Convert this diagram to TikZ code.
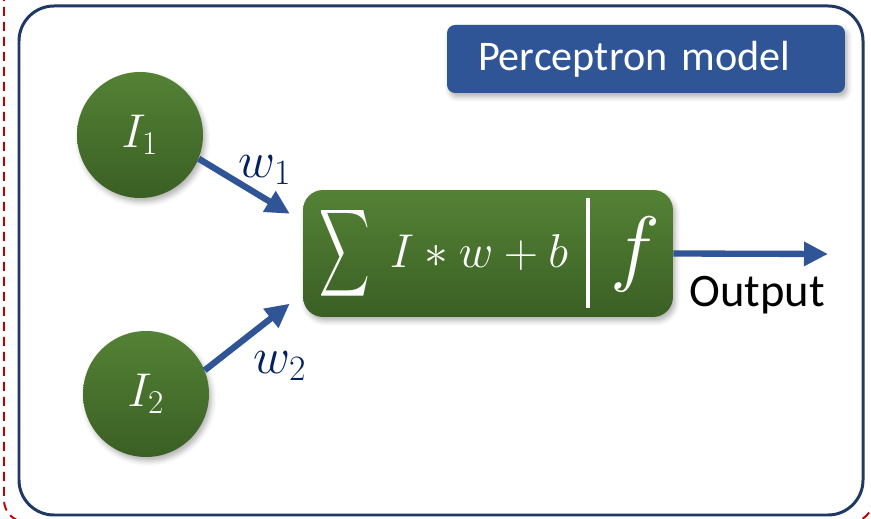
\RequirePackage{fix-cm}
\documentclass[tikz,border=0pt]{standalone}
\usepackage{amsmath}
\usepackage[no-math]{fontspec}
\setmainfont{Carlito}
\usepackage{graphicx}
\usetikzlibrary{positioning,arrows.meta,shadows.blur}
\definecolor{framenavy}{HTML}{1F3864}
\definecolor{titleblue}{HTML}{2F5597}
\definecolor{arrowblue}{HTML}{2F5597}
\definecolor{labelnavy}{HTML}{002060}
\definecolor{cellgreen}{HTML}{548235}
\definecolor{celldark}{HTML}{3A5F24}
\definecolor{borderred}{HTML}{C00000}
\tikzset{
  flowarrow/.style={-{Triangle[length=4.8mm, width=4.6mm]}, line width=3.6pt, arrowblue},
  softshadow/.style={blur shadow={shadow xshift=0.05cm, shadow yshift=-0.08cm, shadow blur radius=0.1cm, shadow opacity=30}},
  inputcell/.style={circle, minimum size=2.52cm, inner sep=0pt, top color=cellgreen, bottom color=celldark, softshadow, text=white, font=\fontsize{27}{30}\selectfont},
  sumbox/.style={rounded corners=0.4cm, minimum width=7.4cm, minimum height=2.54cm, top color=cellgreen, bottom color=celldark, softshadow},
  titlebox/.style={rounded corners=0.16cm, fill=titleblue, minimum height=1.36cm, text width=6.72cm, inner xsep=0.62cm, align=left, text=white, softshadow, font=\fontsize{24}{28}\selectfont},
  weightlabel/.style={text=labelnavy, font=\fontsize{29}{32}\selectfont},
  mathwhite/.style={text=white, inner sep=0pt, font=\fontsize{27}{30}\selectfont},
  outlabel/.style={font=\fontsize{26.5}{30}\selectfont, inner sep=0pt}
}
\begin{document}
\begin{tikzpicture}[x=0.02cm, y=-0.02cm]
  \useasboundingbox (0,0) rectangle (871,519);
  \begin{scope}
    \clip (0,0) rectangle (871,519);
    \draw[borderred, line width=1.1pt, dash pattern=on 0.18cm off 0.12cm, rounded corners=0.44cm] (4,-30) rectangle (873,522);
  \end{scope}
  \draw[framenavy, line width=1.7pt, rounded corners=0.7cm] (19,6) rectangle (863,515);
  \node[titlebox] (title) at (646,59) {Perceptron model};
  \node[inputcell] (in1) at (140,135) {$I_1$};
  \node[inputcell] (in2) at (146,394) {$I_2$};
  \node[sumbox] (neuron) at (488,253.5) {};
  \node[mathwhite] (sigma) at (345,253.5) {\scalebox{0.8}[1.4]{$\displaystyle\sum$}};
  \node[mathwhite, anchor=base] (expr) at (479,268) {$I \ast w + b$};
  \draw[white, line width=2pt] (588,198) -- (588,308);
  \node[mathwhite, font=\fontsize{48}{50}\selectfont] (act) at (635,254) {$f$};
  \coordinate (out) at (828,254);
  \draw[flowarrow, shorten >=0.3cm] (in1.-22) -- ([yshift=0.64cm]neuron.west);
  \draw[flowarrow, shorten >=0.33cm] (in2.22) -- ([yshift=-0.8cm]neuron.west);
  \draw[flowarrow] (neuron.east) -- (out);
  \node[weightlabel] (w1) at (265,170) {$w_1$};
  \node[weightlabel] (w2) at (280,366) {$w_2$};
  \node[outlabel, anchor=base] (outtext) at (757,307) {Output};
\end{tikzpicture}
\end{document}
